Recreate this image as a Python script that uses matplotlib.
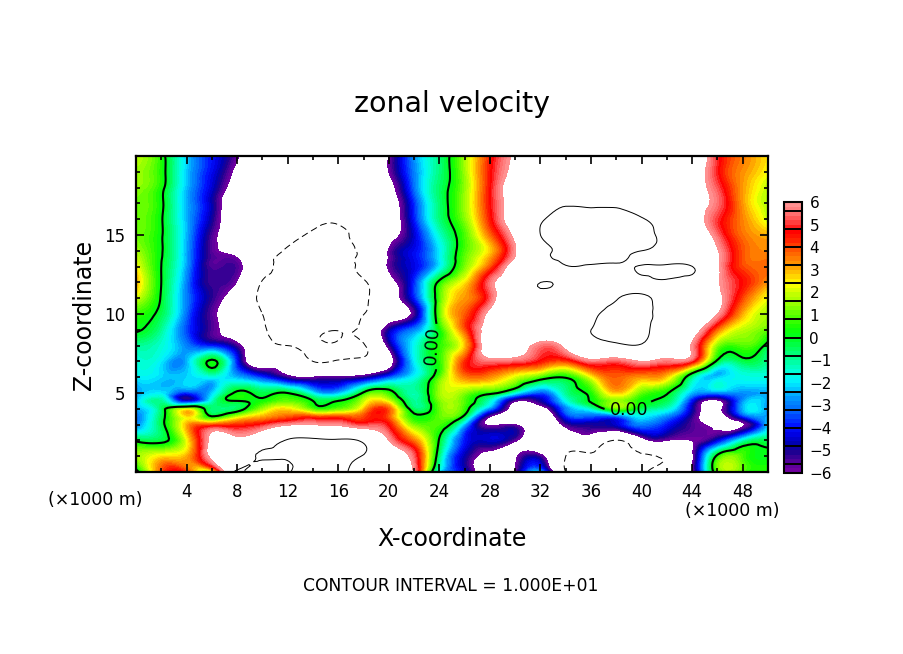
import numpy as np
import matplotlib
matplotlib.use('Agg')
import matplotlib.pyplot as plt
import matplotlib.tri as mtri
from matplotlib.colors import LinearSegmentedColormap, BoundaryNorm

# x coordinate (x1000 m) of each column, z coordinate of each row
x_km = np.arange(0, 51, 2)
z_km = np.arange(20, -1, -1).astype(float)

# zonal velocity, one list per x column, top (z=20) to bottom (z=0)
u_columns = [
    [1.8, 1.5, 1.4, 1.2, 1.2, 1.2, 1.6, 2.4, 3.0, 2.0, 0.6, 0.1, -1.0, -1.6, -2, -2.8, -2.6, -3, -0.2, 1.5, -0.5],
    [.4, .4, .3, .2, .1, .1, .1, 0, 0, -.1, -.4, -1, -1.5, -2, -2.2, -2, -.6, -.4, -.3, 2.5, 3.8],
    [-2.3, -2.3, -2.4, -2.5, -2.5, -2.5, -2.6, -2.7, -3, -3, -3.2, -3.5, -3, -2.5, -2.2, -3.8, 1.8, 3, 2.2, 3, 4.2],
    [-4, -4.2, -4.5, -4.8, -5, -5.5, -5.6, -5.5, -5.3, -5.2, -5.6, -5.5, -4, .2, -1.8, -2.3, -.7, 3.8, 6.5, 6.5, 1.5],
    [-5.8, -6.5, -7.2, -8, -8, -7.5, -6.8, -5.5, -6.1, -7.5, -8, -7.6, -5.5, -4, -2.5, .2, -.5, 4.2, 6.5, 8.5, 10.5],
    [-8, -8.5, -9, -9, -9, -8.8, -9, -9, -10.2, -10.4, -10, -9.8, -9, -7.5, -3.8, -.4, 1.5, 4.8, 8, 10.3, 5.6],
    [-9, -9, -9, -9, -9, -9.3, -10.2, -10.5, -10.6, -10.6, -10.6, -10.6, -10, -7.6, -5.5, 0, 2.5, 5.8, 10.2, 10.5, 9.5],
    [-9, -9, -9, -9, -9.5, -10.3, -10.8, -10.8, -10.8, -10.8, -10.8, -10.4, -10.4, -10, -6, -2, .8, 6, 10.5, 11, 11],
    [-9, -9.2, -9.5, -9.6, -9.8, -10.3, -10.2, -10.4, -10.6, -10.4, -10.1, -10.05, -10.3, -9.8, -5.7, -2.5, 1, 5.8, 10.3, 10.8, 11],
    [-8.5, -8.5, -8.7, -8.8, -9, -9.2, -9.5, -9.3, -10.3, -10.3, -10.05, -9.3, -10.2, -9.5, -5.3, .2, 2.8, 5, 9.5, 9.8, 8],
    [-6, -6, -6.8, -7.3, -7.5, -7, -5.9, -5.8, -7, -7.5, -7.5, -5, -5.5, -7, -3.5, .6, 3.8, 4.6, 6, 7.5, 7.8],
    [-2.8, -3, -3.2, -3.8, -4, -4.5, -4.2, -4.3, -3.8, -4, -5.5, -3, -1.8, -2, -1.8, -1.2, -.6, 1.2, 3.5, 5.3, 5.8],
    [-.8, -.8, -.6, -.7, -.8, -1.5, -2, -2, .3, .8, 1, .2, .5, .5, .9, 1.5, 1, .8, -.1, -.8, -2],
    [1.5, 1.5, 1.4, 1.5, 1.3, .8, .8, 1.2, 2.5, 3.2, 3.8, 3.8, 2.8, 4.2, 3.4, 1.3, .6, -2.5, -4, -4.8, -4.5],
    [4.3, 4.5, 4.6, 4.6, 4.4, 3.6, 2.7, 3.8, 5.5, 5.2, 6.5, 7, 7.5, 5.5, 3.3, .3, -3, -6.2, -4.5, -7, -8],
    [6.3, 6.5, 7, 7, 7.2, 6.5, 5.9, 7, 8, 8.5, 8.5, 8.5, 7.5, 5.3, 2, -1.8, -7, -6, -5.8, -6.3, -5.8],
    [8, 8, 8.5, 9, 9.7, 10, 9.2, 8.5, 10, 9, 8.5, 8, 5.5, 4.5, .7, -3.5, -7, -8, -8, -5.5, -2.5],
    [9, 9, 9.5, 9.9, 10.6, 10.8, 10.5, 9.9, 9.5, 9, 8.8, 8.5, 6.5, 4, .1, -1, -3, -5.5, -8, -10, -10],
    [9, 9, 9.5, 9.8, 10.7, 11, 10.9, 9.8, 9.5, 9.5, 9.7, 10, 9, 5.5, 2.2, .4, -1.5, -5, -7.5, -10.4, -10.5],
    [9, 9, 9.5, 9.7, 10.9, 11, 10.7, 9.7, 9.5, 9.9, 10.7, 10.8, 9.5, 5.2, 3.8, 2.8, 1, -4.5, -10.1, -10.5, -10.5],
    [9, 9, 9.5, 9.5, 10.1, 10.6, 10.0, 10.1, 9.6, 10.3, 11, 11, 9.7, 6, 3.2, 1, -.5, -3, -7, -10.2, -10.3],
    [8.5, 8.5, 8.5, 8.8, 9.3, 9.4, 9.2, 10.3, 9.6, 9, 8.5, 8, 7.5, 5.5, 2.7, .1, -1.5, -4, -6, -9.7, -9],
    [7.5, 7.3, 7, 7, 7.2, 7.8, 8, 10.05, 8.6, 8, 7.6, 7, 5.8, 4.8, -1, -2.5, -4.8, -5.5, -6, -6.3, -6.3],
    [4.9, 4.8, 5.2, 5.5, 5, 5.4, 6.1, 6.3, 6.2, 6.5, 6, 3.6, 1.3, -.3, -2.3, -3, -6.5, -6.5, -4.5, .3, .8],
    [3.5, 3.3, 3.2, 3.2, 3.4, 3.6, 3.9, 4, 4.6, 4, 3, 1.8, .9, -.4, -1.7, -2.8, -2.5, -6.2, -1.5, .8, .8],
    [2.5, 2.3, 1.8, 1.7, 1.9, 3, 3.4, 3.8, 3.2, 2.2, 1.6, 1, -.4, -1, -1.7, -2.5, -2.8, -2.2, -.5, .1, .6],
]

# extra rows where the field changes quickly
u_z135 = [2.0, .05, -2.6, -5.5, -5.9, -9.2, -10.4, -10.6, -10.2, -9.4, -5.9, -4.2, -2,
          1.0, 3.2, 6.2, 9.2, 10.4, 10.6, 10.4, 9.5, 9.1, 8.2, 6.2, 3.9, 3.6]
u_z45 = [-2.5, -1, -4.5, -1.5, 0, .3, 1, 0, 0, 1.8, 2, -1, 1.2,
         .9, -1.5, -5.8, -5, -1.8, .1, 1.5, .3, -.5, -4.2, -6.3, -2.8, -2.6]
u_z35 = [-3.2, -.5, 2.5, .1, 1.8, 3, 3.8, 4, 4, 4, 3.8, .3, 1,
         -.4, -6, -8, -8.5, -4, -3.5, -3.5, -2, -3, -5.3, -6.8, -4, -2.6]

color_values = [-6, -5.6, -5.2, -4.8, -4.4, -4, -3.6, -3.2, -2.8, -2.4, -2, -1.6, -1.2, -.8, -.4, 0,
                .4, .8, 1.2, 1.6, 2, 2.4, 2.8, 3.2, 3.6, 4, 4.4, 4.8, 5.2, 5.6, 6]
color_stops = ['#7000a0', '#500098', '#200090', '#0000b0', '#0000e0', '#0010ff', '#0040ff', '#0070ff',
               '#0090ff', '#00c0ff', '#00f0ff', '#00ffe0', '#00ffb0', '#00ff80', '#00ff50', '#00ff20',
               '#10ff00', '#40ff00', '#70ff00', '#a0ff00', '#c8ff00', '#ffff00', '#ffd000', '#ffa000',
               '#ff7800', '#ff5000', '#ff2000', '#ff0000', '#ff4040', '#ff7070', '#ff9090']

W, H = 904, 654
fig = plt.figure(figsize=(W / 100, H / 100), dpi=100)
ax = fig.add_axes([136 / W, 1 - 472 / H, 632 / W, 316 / H])

levels = np.arange(-6, 6.01, 0.2)
stops = [((v + 6) / 12, c) for v, c in zip(color_values, color_stops)]
cmap = LinearSegmentedColormap.from_list('vel', stops, N=len(levels) - 1)
norm = BoundaryNorm(levels, cmap.N)

u = np.array(u_columns).T
for z_new, row in [(13.5, u_z135), (4.5, u_z45), (3.5, u_z35)]:
    i = np.searchsorted(-z_km, -z_new)
    z_km = np.insert(z_km, i, z_new)
    u = np.insert(u, i, row, axis=0)

# smooth the grid with matplotlib's own cubic refiner
xx, zz = np.meshgrid(x_km, z_km)
tri = mtri.Triangulation(xx.ravel(), zz.ravel())
tri_fine, u_fine = mtri.UniformTriRefiner(tri).refine_field(u.ravel(), subdiv=3)

cf = ax.tricontourf(tri_fine, u_fine, levels=levels, cmap=cmap, norm=norm)
zero = ax.tricontour(tri_fine, u_fine, levels=[0], colors='k', linewidths=1.5)
ax.tricontour(tri_fine, u_fine, levels=[10], colors='k', linewidths=0.7, linestyles='solid')
ax.tricontour(tri_fine, u_fine, levels=[-10], colors='k', linewidths=0.7, linestyles=[(0, (7, 4))])
ax.clabel(zero, fmt='%.2f', fontsize=12.5, manual=[(23.4, 8.0)], inline=True)
labs = ax.clabel(zero, fmt='%.2f', fontsize=12.5, manual=[(38.9, 4.4)], inline=True)
labs[-1].set_rotation(0)

ax.set_xlim(0, 50)
ax.set_ylim(0, 20)
ax.set_xticks(np.arange(4, 49, 4))
ax.set_xticks(np.arange(2, 50, 2), minor=True)
ax.set_yticks([5, 10, 15])
ax.set_yticks(np.arange(1, 20), minor=True)
ax.tick_params(which='both', direction='in', top=True, right=True, width=1.2)
ax.tick_params(which='major', length=6, labelsize=12)
ax.tick_params(which='minor', length=3)
ax.tick_params(axis='both', which='major', pad=8)
for sp in ax.spines.values():
    sp.set_linewidth(1.6)

cax = fig.add_axes([784 / W, 1 - 473 / H, 18.5 / W, 271 / H])
cb = fig.colorbar(cf, cax=cax, ticks=np.arange(-6, 7))
cb.minorticks_off()
cax.tick_params(which='both', length=0, labelsize=11, pad=5)
cb.outline.set_linewidth(1.5)
cax.hlines(np.arange(-5.6, 5.7, 0.8), 0, 1, colors='k', linewidth=1.4,
           transform=cax.get_yaxis_transform())

fig.text(452 / W, 1 - 104 / H, 'zonal velocity', ha='center', va='center', fontsize=20.5)
fig.text(452 / W, 1 - 539 / H, 'X-coordinate', ha='center', va='center', fontsize=17)
fig.text(84 / W, 1 - 315 / H, 'Z-coordinate', ha='center', va='center', fontsize=17, rotation=90)
fig.text(95 / W, 1 - 500 / H, '(×1000 m)', ha='center', va='center', fontsize=12.5)
fig.text(732 / W, 1 - 511 / H, '(×1000 m)', ha='center', va='center', fontsize=12.5)
fig.text(451 / W, 1 - 586 / H, 'CONTOUR INTERVAL = 1.000E+01', ha='center', va='center', fontsize=12.3)

fig.savefig('out.png', dpi=100)
